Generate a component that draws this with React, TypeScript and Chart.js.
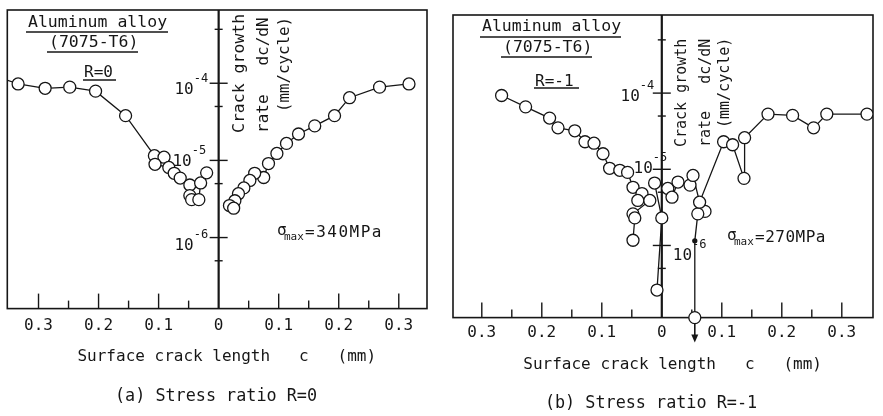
import React, { useEffect, useRef } from 'react';
import { Chart, registerables } from 'chart.js';
Chart.register(...registerables);

// ---------- DATA ----------
// Panel (a): R = 0, sigma_max = 340 MPa. c in mm (left side plotted as negative), rate in mm/cycle
const aLeftC = [-0.36, -0.334, -0.289, -0.248, -0.205, -0.155, -0.107, -0.091, -0.106, -0.083, -0.074, -0.064, -0.048, -0.048, -0.045, -0.033, -0.030, -0.020];
const aLeftRate = [1.15e-4, 9.8e-5, 8.6e-5, 8.9e-5, 7.9e-5, 3.8e-5, 1.15e-5, 1.1e-5, 8.9e-6, 8.1e-6, 6.8e-6, 5.9e-6, 4.8e-6, 3.5e-6, 3.1e-6, 3.1e-6, 5.1e-6, 6.9e-6];
const aLeftRadius = [0, 6, 6, 6, 6, 6, 6, 6, 6, 6, 6, 6, 6, 6, 6, 6, 6, 6];
const aRightC = [0.317, 0.268, 0.218, 0.193, 0.160, 0.133, 0.113, 0.097, 0.083, 0.075, 0.060, 0.052, 0.042, 0.033, 0.027, 0.018, 0.025];
const aRightRate = [9.8e-5, 8.9e-5, 6.5e-5, 3.8e-5, 2.8e-5, 2.2e-5, 1.66e-5, 1.23e-5, 9.1e-6, 6.0e-6, 6.8e-6, 5.5e-6, 4.4e-6, 3.7e-6, 3.0e-6, 2.6e-6, 2.4e-6];

// Panel (b): R = -1, sigma_max = 270 MPa
const bLeftC = [-0.267, -0.227, -0.187, -0.173, -0.145, -0.128, -0.113, -0.098, -0.087, -0.070, -0.057, -0.048, -0.033, -0.040, -0.020, -0.048, -0.045, -0.048];
const bLeftRate = [9.3e-5, 6.6e-5, 4.7e-5, 3.5e-5, 3.2e-5, 2.3e-5, 2.2e-5, 1.6e-5, 1.03e-5, 9.7e-6, 9.1e-6, 5.8e-6, 4.8e-6, 3.9e-6, 3.9e-6, 2.6e-6, 2.3e-6, 1.17e-6];
const bCenterC = [-0.012, 0.0, -0.008];
const bCenterRate = [6.6e-6, 2.3e-6, 2.6e-7];
const bRightC = [0.010, 0.017, 0.027, 0.047, 0.052, 0.063, 0.103, 0.118, 0.137, 0.138, 0.177, 0.218, 0.253, 0.275, 0.342, 0.36];
const bRightRate = [5.6e-6, 4.3e-6, 6.8e-6, 6.2e-6, 8.3e-6, 3.7e-6, 2.3e-5, 2.1e-5, 7.6e-6, 2.6e-5, 5.3e-5, 5.1e-5, 3.5e-5, 5.3e-5, 5.3e-5, 5.3e-5];
const bRightRadius = [6, 6, 6, 6, 6, 6, 6, 6, 6, 6, 6, 6, 6, 6, 6, 0];
const bDropC = [0.072, 0.060, 0.055, 0.055];
const bDropRate = [2.8e-6, 2.6e-6, 1.15e-6, 1.13e-7];
const bDropRadius = [6, 6, 2, 6];

// Tick values
const xTickValues = [-0.3, -0.2, -0.1, 0, 0.1, 0.2, 0.3];
const xMajorMarks = [-0.3, -0.2, -0.1, 0.1, 0.2, 0.3];
const xMinorMarks = [-0.25, -0.15, -0.05, 0.05, 0.15, 0.25];
const yMajorMarks = [1e-4, 1e-5, 1e-6];
const yMinorMarks = [5e-4, 5e-5, 5e-6, 5e-7];

const xTitle = '  Surface crack length   c   (mm)';

// ---------- STYLE / LAYOUT ----------
const INK = '#161616';
const FONT = "'DejaVu Sans Mono', monospace";

const toPts = (cs: number[], rs: number[]) => cs.map((c, i) => ({ x: c, y: rs[i] }));

const lineStyle = {
  showLine: true,
  borderColor: INK,
  borderWidth: 1.3,
  pointRadius: 6,
  pointBackgroundColor: '#ffffff',
  pointBorderColor: INK,
  pointBorderWidth: 1.3,
  clip: 0,
};

type Piece = { t: string; x: number; y: number; size: number; align?: CanvasTextAlign; ls?: number; rot?: boolean; ul?: [number, number, number] };

const panelA = {
  width: 440,
  padding: { left: 4, top: 10, right: 13, bottom: 50 },
  xMin: -0.352, xMax: 0.347,
  yMin: 1.2e-7, yMax: 8.9e-4,
  tickPad: 8, titlePadTop: 3,
  datasets: [
    { ...lineStyle, pointRadius: aLeftRadius, data: toPts(aLeftC, aLeftRate) },
    { ...lineStyle, data: toPts(aRightC, aRightRate) },
  ],
  arrowDataset: -1,
  yLabels: [
    { v: 1e-4, side: 'L', dx: -25, dy: 7 },
    { v: 1e-5, side: 'L', dx: -27, dy: 1 },
    { v: 1e-6, side: 'L', dx: -25, dy: 8 },
  ],
  texts: [
    { t: 'Aluminum alloy', x: 28, y: 23, size: 16.5, ul: [26, 168, 32] },
    { t: '(7075-T6)', x: 49, y: 43, size: 16.5, ul: [47, 138, 52] },
    { t: 'R=0', x: 84, y: 73, size: 16, ul: [83, 116, 80] },
    { t: 'σ', x: 277, y: 231, size: 16 },
    { t: 'max', x: 284, y: 237, size: 11 },
    { t: '=340MPa', x: 305, y: 233, size: 16, ls: 1.5 },
    { t: 'Crack growth', x: 240, y: 133, size: 16.5, rot: true },
    { t: 'rate   dc/dN', x: 264, y: 133, size: 16, rot: true },
    { t: '(mm/cycle)', x: 285, y: 112, size: 15.8, rot: true },
    { t: '(a) Stress ratio R=0', x: 216, y: 397, size: 16.8, align: 'center' },
  ] as Piece[],
};

const panelB = {
  width: 443,
  padding: { left: 13, top: 15, right: 10, bottom: 42 },
  xMin: -0.348, xMax: 0.352,
  yMin: 1.13e-7, yMax: 1.06e-3,
  tickPad: 6, titlePadTop: 6,
  datasets: [
    { ...lineStyle, data: toPts(bLeftC, bLeftRate) },
    { ...lineStyle, data: toPts(bCenterC, bCenterRate) },
    { ...lineStyle, pointRadius: bRightRadius, data: toPts(bRightC, bRightRate) },
    { ...lineStyle, clip: false, pointRadius: bDropRadius, pointBackgroundColor: bDropRadius.map((r) => (r > 3 ? '#ffffff' : INK)), data: toPts(bDropC, bDropRate) },
  ],
  arrowDataset: 3,
  yLabels: [
    { v: 1e-4, side: 'L', dx: -22, dy: 4 },
    { v: 1e-5, side: 'L', dx: -9, dy: 0 },
    { v: 1e-6, side: 'R', dx: 11, dy: 10 },
  ],
  texts: [
    { t: 'Aluminum alloy', x: 42, y: 27, size: 16.5, ul: [40, 181, 37] },
    { t: '(7075-T6)', x: 63, y: 48, size: 16.5, ul: [61, 152, 57] },
    { t: 'R=-1', x: 95, y: 82, size: 16, ul: [94, 139, 88] },
    { t: 'σ', x: 287, y: 236, size: 16 },
    { t: 'max', x: 294, y: 242, size: 11 },
    { t: '=270MPa', x: 315, y: 238, size: 16, ls: 0.5 },
    { t: 'Crack growth', x: 242, y: 147, size: 15, rot: true },
    { t: 'rate   dc/dN', x: 266, y: 147, size: 15, rot: true },
    { t: '(mm/cycle)', x: 285, y: 128, size: 15, rot: true },
    { t: '(b) Stress ratio R=-1', x: 211, y: 404, size: 16.8, align: 'center' },
  ] as Piece[],
};

function drawText(ctx: CanvasRenderingContext2D, p: Piece) {
  ctx.save();
  ctx.fillStyle = INK;
  ctx.font = `${p.size}px ${FONT}`;
  (ctx as any).letterSpacing = `${p.ls || 0}px`;
  ctx.textBaseline = 'middle';
  if (p.rot) {
    ctx.translate(p.x, p.y);
    ctx.rotate(-Math.PI / 2);
    ctx.textAlign = 'left';
    ctx.fillText(p.t, 0, 0);
  } else {
    ctx.textAlign = p.align || 'left';
    ctx.fillText(p.t, p.x, p.y);
  }
  ctx.restore();
  if (p.ul) {
    ctx.save();
    ctx.strokeStyle = INK;
    ctx.lineWidth = 1.3;
    ctx.beginPath();
    ctx.moveTo(p.ul[0], p.ul[2]);
    ctx.lineTo(p.ul[1], p.ul[2]);
    ctx.stroke();
    ctx.restore();
  }
}

function seg(ctx: CanvasRenderingContext2D, x1: number, y1: number, x2: number, y2: number) {
  ctx.beginPath();
  ctx.moveTo(x1, y1);
  ctx.lineTo(x2, y2);
  ctx.stroke();
}

function framePlugin(p: typeof panelA) {
  return {
    id: 'frame',
    beforeDatasetsDraw(chart: any) {
      const { ctx, chartArea: ca } = chart;
      const x = chart.scales.x;
      const y = chart.scales.y;
      ctx.save();
      ctx.strokeStyle = INK;
      ctx.lineWidth = 1.6;
      ctx.strokeRect(ca.left, ca.top, ca.right - ca.left, ca.bottom - ca.top);
      const x0 = x.getPixelForValue(0);
      ctx.lineWidth = 2.2;
      seg(ctx, x0, ca.top, x0, ca.bottom);
      ctx.lineWidth = 1.4;
      for (const v of xMajorMarks) {
        const px = x.getPixelForValue(v);
        seg(ctx, px, ca.bottom, px, ca.bottom - 15);
      }
      for (const v of xMinorMarks) {
        const px = x.getPixelForValue(v);
        seg(ctx, px, ca.bottom, px, ca.bottom - 8);
      }
      for (const v of yMajorMarks) {
        const py = y.getPixelForValue(v);
        seg(ctx, x0 - 9, py, x0 + 9, py);
      }
      for (const v of yMinorMarks) {
        const py = y.getPixelForValue(v);
        seg(ctx, x0 - 4, py, x0 + 4, py);
      }
      ctx.restore();
    },
    afterDraw(chart: any) {
      const { ctx } = chart;
      const x = chart.scales.x;
      const y = chart.scales.y;
      const x0 = x.getPixelForValue(0);
      for (const L of p.yLabels) {
        const py = y.getPixelForValue(L.v);
        const exp = String(Math.round(Math.log10(L.v)));
        if (L.side === 'L') {
          drawText(ctx, { t: '10', x: x0 + L.dx, y: py + L.dy, size: 16, align: 'right' });
          drawText(ctx, { t: exp, x: x0 + L.dx, y: py + L.dy - 11, size: 12 });
        } else {
          ctx.font = `16px ${FONT}`;
          const w = ctx.measureText('10').width;
          drawText(ctx, { t: '10', x: x0 + L.dx, y: py + L.dy, size: 16 });
          drawText(ctx, { t: exp, x: x0 + L.dx + w, y: py + L.dy - 11, size: 12 });
        }
      }
      for (const t of p.texts) drawText(ctx, t);
      if (p.arrowDataset >= 0) {
        const meta = chart.getDatasetMeta(p.arrowDataset);
        const el = meta.data[meta.data.length - 1];
        const ax = el.x;
        const ay = el.y + 6;
        ctx.save();
        ctx.strokeStyle = INK;
        ctx.fillStyle = INK;
        ctx.lineWidth = 1.6;
        seg(ctx, ax, ay, ax, ay + 14);
        ctx.beginPath();
        ctx.moveTo(ax - 3.5, ay + 11);
        ctx.lineTo(ax + 3.5, ay + 11);
        ctx.lineTo(ax, ay + 19);
        ctx.closePath();
        ctx.fill();
        ctx.restore();
      }
    },
  };
}

function makeChart(canvas: HTMLCanvasElement, p: typeof panelA) {
  return new Chart(canvas, {
    type: 'scatter',
    data: { datasets: p.datasets as any },
    options: {
      animation: false,
      responsive: false,
      maintainAspectRatio: false,
      events: [],
      layout: { padding: p.padding },
      plugins: { legend: { display: false }, tooltip: { enabled: false }, title: { display: false } },
      scales: {
        x: {
          type: 'linear',
          min: p.xMin,
          max: p.xMax,
          afterBuildTicks: (s: any) => {
            s.ticks = xTickValues.map((v) => ({ value: v }));
          },
          grid: { display: false, drawTicks: false },
          border: { display: false },
          ticks: {
            padding: p.tickPad,
            color: INK,
            font: { family: FONT, size: 16 },
            maxRotation: 0,
            autoSkip: false,
            callback: (v: any) => (Math.abs(Number(v)) < 1e-9 ? '0' : Math.abs(Number(v)).toFixed(1)),
          },
          title: {
            display: true,
            text: xTitle,
            color: INK,
            font: { family: FONT, size: 16 },
            padding: { top: p.titlePadTop, bottom: 0 },
          },
        },
        y: { type: 'logarithmic', min: p.yMin, max: p.yMax, display: false },
      },
    } as any,
    plugins: [framePlugin(p) as any],
  });
}

export default function App() {
  const refA = useRef<HTMLCanvasElement>(null);
  const refB = useRef<HTMLCanvasElement>(null);
  useEffect(() => {
    const a = makeChart(refA.current!, panelA);
    const b = makeChart(refB.current!, panelB as any);
    return () => {
      a.destroy();
      b.destroy();
    };
  }, []);
  return (
    <div style={{ position: 'absolute', left: 0, top: 0, width: 883, height: 416, background: '#ffffff' }}>
      <canvas ref={refA} width={440} height={416} style={{ position: 'absolute', left: 0, top: 0 }} />
      <canvas ref={refB} width={443} height={416} style={{ position: 'absolute', left: 440, top: 0 }} />
    </div>
  );
}
